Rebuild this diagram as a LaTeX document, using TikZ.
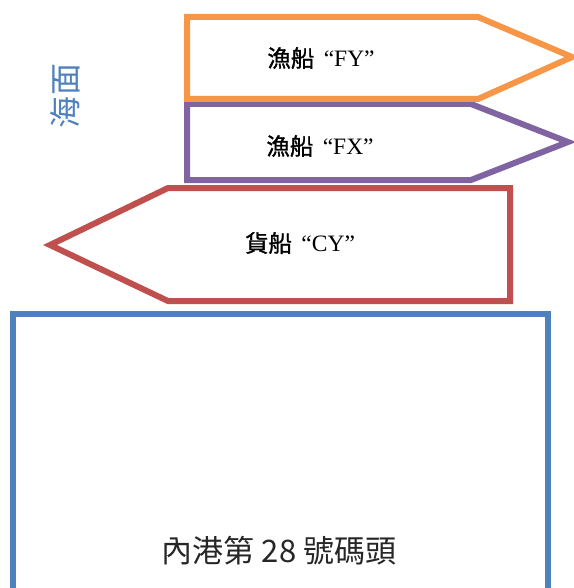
\documentclass[tikz,border=0pt]{standalone}
\usepackage{fontspec}
\setmainfont{Liberation Serif}
\newfontfamily\cjk{Noto Sans CJK TC}
\newfontfamily\cjkb[FakeBold=1.2]{Noto Sans CJK TC}
\definecolor{cOrange}{HTML}{F79646}
\definecolor{cPurple}{HTML}{8064A2}
\definecolor{cRed}{HTML}{C0504D}
\definecolor{cBlue}{HTML}{4F81BD}
\definecolor{cText}{HTML}{262626}
\tikzset{
  hull/.style={line width=6bp, line join=miter, fill=white},
  shiplabel/.style={font=\fontsize{23.5bp}{26bp}\selectfont, text=black, inner sep=0pt},
}
\begin{document}
\begin{tikzpicture}[x=1bp,y=-1bp]
\useasboundingbox (0,0) rectangle (574,588);
% pier
\draw[hull, draw=cBlue] (13,640) -- (13,314) -- (548,314) -- (548,640);
% cargo ship CY
\draw[hull, draw=cRed] (168,188) -- (510,188) -- (510,301) -- (168,301) -- (50,245) -- cycle;
% fishing boat FX
\draw[hull, draw=cPurple] (187,104) -- (471,104) -- (568,142) -- (471,180) -- (187,180) -- cycle;
% fishing boat FY
\draw[hull, draw=cOrange] (187,17) -- (478,17) -- (572,57) -- (478,99) -- (187,99) -- cycle;
% labels
\node[shiplabel] (fy) at (321,58) {{\cjkb 漁船}\hspace{0.4em}“FY”};
\node[shiplabel] (fx) at (320,146) {{\cjkb 漁船}\hspace{0.4em}“FX”};
\node[shiplabel] (cy) at (300,243) {{\cjkb 貨船}\hspace{0.4em}“CY”};
\node[inner sep=0pt, text=cText, font=\cjk\fontsize{31bp}{34bp}\selectfont] (pier) at (279,551) {內港第 28 號碼頭};
\node[inner sep=0pt, text=cBlue, rotate=90, font=\cjk\fontsize{32bp}{34bp}\selectfont] (sea) at (65,96) {海面};
\end{tikzpicture}
\end{document}
